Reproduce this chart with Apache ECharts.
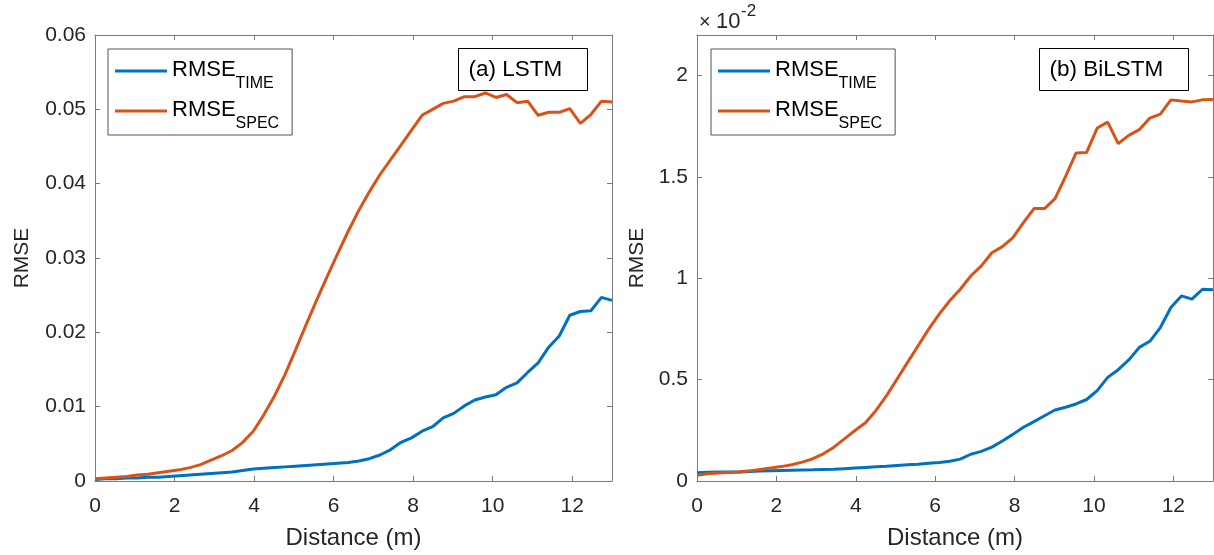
<!DOCTYPE html>
<html>
<head>
<meta charset="utf-8">
<script src="https://cdn.jsdelivr.net/npm/echarts@6/dist/echarts.min.js"></script>
<style>
  html, body { margin: 0; padding: 0; background: #fff; }
  #chart { width: 1214px; height: 555px; }
</style>
</head>
<body>
<div id="chart"></div>
<script>
// distance samples (m), shared by both panels
var distance = [0, 0.265, 0.531, 0.796, 1.061, 1.327, 1.592, 1.857, 2.122, 2.388,
  2.653, 2.918, 3.184, 3.449, 3.714, 3.980, 4.245, 4.510, 4.776, 5.041,
  5.306, 5.571, 5.837, 6.102, 6.367, 6.633, 6.898, 7.163, 7.429, 7.694,
  7.959, 8.224, 8.490, 8.755, 9.020, 9.286, 9.551, 9.816, 10.082, 10.347,
  10.612, 10.878, 11.143, 11.408, 11.673, 11.939, 12.204, 12.469, 12.735, 13.0];

// (a) LSTM
var lstmTime = [0.0002, 0.0003, 0.0003, 0.0004, 0.0004, 0.0005, 0.0005, 0.0006, 0.0007, 0.0008,
  0.0009, 0.0010, 0.0011, 0.0012, 0.0014, 0.0016, 0.0017, 0.0018, 0.0019, 0.0020,
  0.0021, 0.0022, 0.0023, 0.0024, 0.0025, 0.0027, 0.0030, 0.0035, 0.0042, 0.0052,
  0.0058, 0.0067, 0.0073, 0.0085, 0.0091, 0.0101, 0.0109, 0.0113, 0.0116, 0.0126,
  0.0132, 0.0146, 0.0159, 0.0180, 0.0195, 0.0223, 0.0228, 0.0229, 0.0247, 0.0243];
var lstmSpec = [0.0003, 0.0004, 0.0005, 0.0006, 0.0008, 0.0009, 0.0011, 0.0013, 0.0015, 0.0018,
  0.0022, 0.0028, 0.0034, 0.0041, 0.0052, 0.0067, 0.0089, 0.0114, 0.0143, 0.0176,
  0.0210, 0.0243, 0.0275, 0.0306, 0.0336, 0.0364, 0.0389, 0.0412, 0.0432, 0.0452,
  0.0472, 0.0492, 0.0500, 0.0508, 0.0511, 0.0517, 0.0517, 0.0522, 0.0516, 0.0520,
  0.0509, 0.0511, 0.0492, 0.0496, 0.0496, 0.0501, 0.0481, 0.0493, 0.0511, 0.0510];

// (b) BiLSTM, in units of 1e-2
var bilstmTime = [0.041, 0.043, 0.044, 0.044, 0.045, 0.047, 0.049, 0.051, 0.052, 0.053,
  0.054, 0.055, 0.057, 0.058, 0.061, 0.064, 0.067, 0.070, 0.073, 0.077,
  0.080, 0.083, 0.087, 0.091, 0.097, 0.108, 0.132, 0.146, 0.167, 0.197,
  0.230, 0.265, 0.293, 0.322, 0.350, 0.364, 0.380, 0.402, 0.446, 0.511,
  0.549, 0.597, 0.659, 0.689, 0.757, 0.856, 0.913, 0.897, 0.946, 0.943];
var bilstmSpec = [0.028, 0.036, 0.040, 0.042, 0.044, 0.050, 0.057, 0.064, 0.071, 0.080,
  0.093, 0.110, 0.134, 0.167, 0.208, 0.249, 0.287, 0.348, 0.421, 0.503,
  0.585, 0.667, 0.749, 0.823, 0.889, 0.946, 1.011, 1.061, 1.126, 1.156,
  1.200, 1.274, 1.344, 1.344, 1.393, 1.503, 1.618, 1.621, 1.741, 1.770,
  1.664, 1.705, 1.733, 1.790, 1.810, 1.880, 1.874, 1.870, 1.880, 1.882];

var seriesNames = ['TIME', 'SPEC'];
var panelTitles = ['(a) LSTM', '(b) BiLSTM'];

var FONT = '"Liberation Sans", Arial, Helvetica, sans-serif';
var TXT = '#262626';
var AX = '#7a7a7a';
var BLUE = '#0072BD';
var ORANGE = '#D95319';

function pairs(ys) {
  return distance.map(function (d, i) { return [d, ys[i]]; });
}

function xAxisOf(grid, pos) {
  var main = pos === 'bottom';
  return {
    type: 'value', gridIndex: grid, position: pos,
    min: 0, max: 13, interval: 2,
    name: main ? 'Distance (m)' : '',
    nameLocation: 'middle', nameGap: 45,
    nameTextStyle: { fontFamily: FONT, fontSize: 24, color: TXT },
    axisLine: { show: true, onZero: false, lineStyle: { color: AX, width: 1 } },
    axisTick: { show: true, inside: true, length: 5, lineStyle: { color: AX } },
    axisLabel: { show: main, margin: 15, showMaxLabel: false, fontFamily: FONT, fontSize: 21, color: TXT },
    splitLine: { show: false }
  };
}

function yAxisOf(grid, pos, max, interval, gap, fmt) {
  var main = pos === 'left';
  return {
    type: 'value', gridIndex: grid, position: pos,
    min: 0, max: max, interval: interval,
    name: main ? 'RMSE' : '',
    nameLocation: 'middle', nameGap: gap,
    nameTextStyle: { fontFamily: FONT, fontSize: 21, color: TXT },
    axisLine: { show: true, onZero: false, lineStyle: { color: AX, width: 1 } },
    axisTick: { show: true, inside: true, length: 5, lineStyle: { color: AX } },
    axisLabel: { show: main, margin: 9, showMaxLabel: main && max === 0.06, formatter: fmt,
      fontFamily: FONT, fontSize: 21, color: TXT },
    splitLine: { show: false }
  };
}

function line(name, xi, yi, ys, color) {
  return {
    name: name, type: 'line', xAxisIndex: xi, yAxisIndex: yi,
    data: pairs(ys), symbol: 'none', smooth: false, clip: true,
    lineStyle: { color: color, width: 3 }, itemStyle: { color: color },
    emphasis: { disabled: true }
  };
}

function legendAt(left) {
  return {
    left: left, top: 49, orient: 'vertical',
    data: seriesNames, selectedMode: false,
    icon: 'rect', itemWidth: 52, itemHeight: 3, itemGap: -2,
    padding: [1, 13, 3, 7],
    borderColor: '#262626', borderWidth: 0.8, backgroundColor: '#fff',
    formatter: function (n) { return '{a|RMSE}{b|' + n + '}'; },
    textStyle: {
      fontFamily: FONT, color: '#000',
      rich: {
        a: { fontFamily: FONT, fontSize: 22, lineHeight: 26, padding: [0, 0, 3, 0], color: '#000' },
        b: { fontFamily: FONT, fontSize: 16, lineHeight: 18, padding: [26, 0, 0, 0], color: '#000' }
      }
    }
  };
}

function tagBox(x, w, text) {
  return {
    type: 'group', left: x, top: 48,
    children: [
      { type: 'rect', shape: { x: 0, y: 0, width: w, height: 42 },
        style: { fill: '#fff', stroke: '#000', lineWidth: 1 } },
      { type: 'text', x: 10, y: 21,
        style: { text: text, font: '22.5px ' + FONT, fill: '#000', verticalAlign: 'middle' } }
    ]
  };
}

var chart = echarts.init(document.getElementById('chart'), null, { renderer: 'canvas' });
var option = {
  backgroundColor: '#fff',
  animation: false,
  grid: [
    { left: 95, top: 35, width: 517, height: 447 },
    { left: 697, top: 35, width: 516, height: 447 }
  ],
  xAxis: [xAxisOf(0, 'bottom'), xAxisOf(0, 'top'), xAxisOf(1, 'bottom'), xAxisOf(1, 'top')],
  yAxis: [
    yAxisOf(0, 'left', 0.06, 0.01, 62, function (v) { return v === 0 ? '0' : v.toFixed(2); }),
    yAxisOf(0, 'right', 0.06, 0.01, 0),
    yAxisOf(1, 'left', 2.2, 0.5, 49, function (v) { return String(+v.toFixed(1)); }),
    yAxisOf(1, 'right', 2.2, 0.5, 0)
  ],
  legend: [legendAt(108), legendAt(711)],
  series: [
    line(seriesNames[0], 0, 0, lstmTime, BLUE),
    line(seriesNames[1], 0, 0, lstmSpec, ORANGE),
    line(seriesNames[0], 2, 2, bilstmTime, BLUE),
    line(seriesNames[1], 2, 2, bilstmSpec, ORANGE)
  ],
  graphic: [
    tagBox(458, 129, panelTitles[0]),
    tagBox(1039, 149, panelTitles[1]),
    { type: 'text', left: 699, top: 12, style: { text: '\u00d7', font: '20px ' + FONT, fill: TXT } },
    { type: 'text', left: 716, top: 11, style: { text: '10', font: '22px ' + FONT, fill: TXT } },
    { type: 'text', left: 741, top: 3, style: { text: '-2', font: '17px ' + FONT, fill: TXT } }
  ]
};
chart.setOption(option);
window.addEventListener('resize', function () { chart.resize(); });
</script>
</body>
</html>
